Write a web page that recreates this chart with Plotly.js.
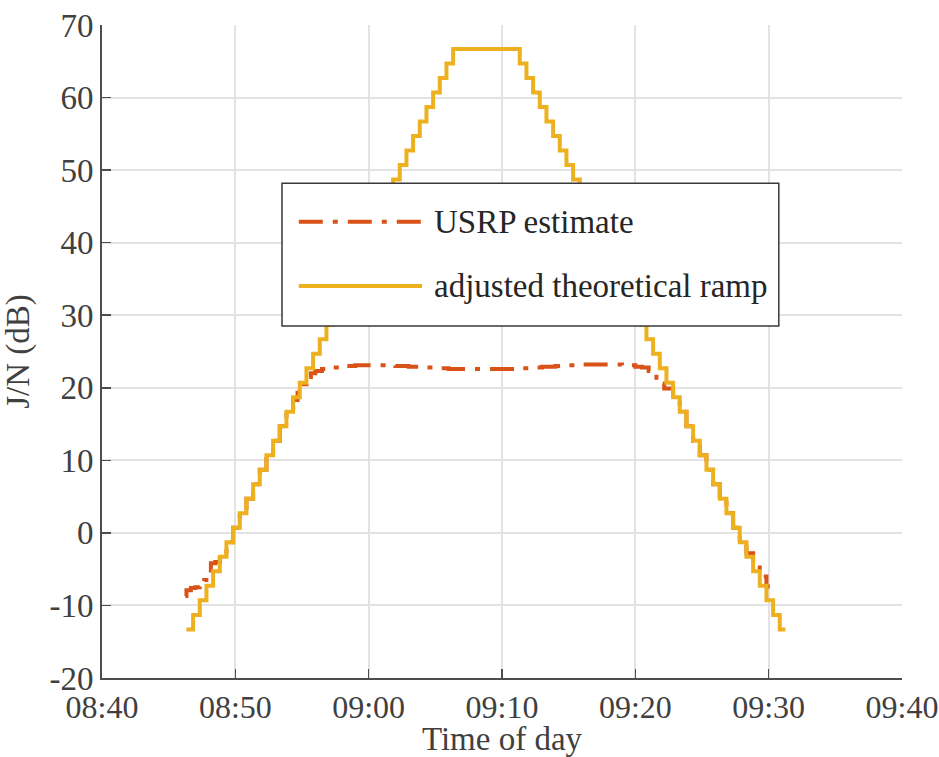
<!DOCTYPE html>
<html>
<head>
<meta charset="utf-8">
<script src="https://cdn.plot.ly/plotly-3.0.1.min.js"></script>
<style>html,body{margin:0;padding:0;background:#fff;}#chart{width:939px;height:757px;}</style>
</head>
<body>
<div id="chart"></div>
<script>
var day = '2021-01-01 ';

// adjusted theoretical ramp (stepwise, held until next time)
var rampTimes = ['08:46:20','08:46:50','08:47:20','08:47:50','08:48:20','08:48:50','08:49:20','08:49:50','08:50:20','08:50:50',
  '08:51:20','08:51:50','08:52:20','08:52:50','08:53:20','08:53:50','08:54:20','08:54:50','08:55:20','08:55:50',
  '08:56:20','08:56:50','08:57:20','08:57:50','08:58:20','08:58:50','08:59:20','08:59:50','09:00:20','09:00:50',
  '09:01:20','09:01:50','09:02:20','09:02:50','09:03:20','09:03:50','09:04:20','09:04:50','09:05:20','09:05:50',
  '09:06:20',
  '09:11:20','09:11:50','09:12:20','09:12:50','09:13:20','09:13:50','09:14:20','09:14:50','09:15:20','09:15:50',
  '09:16:20','09:16:50','09:17:20','09:17:50','09:18:20','09:18:50','09:19:20','09:19:50','09:20:20','09:20:50',
  '09:21:20','09:21:50','09:22:20','09:22:50','09:23:20','09:23:50','09:24:20','09:24:50','09:25:20','09:25:50',
  '09:26:20','09:26:50','09:27:20','09:27:50','09:28:20','09:28:50','09:29:20','09:29:50','09:30:20','09:30:50',
  '09:31:15'];
var rampValues = [-13.3,-11.3,-9.3,-7.3,-5.3,-3.3,-1.3,0.7,2.7,4.7,
  6.7,8.7,10.7,12.7,14.7,16.7,18.7,20.7,22.7,24.7,
  26.7,28.7,30.7,32.7,34.7,36.7,38.7,40.7,42.7,44.7,
  46.7,48.7,50.7,52.7,54.7,56.7,58.7,60.7,62.7,64.7,
  66.7,
  64.7,62.7,60.7,58.7,56.7,54.7,52.7,50.7,48.7,46.7,
  44.7,42.7,40.7,38.7,36.7,34.7,32.7,30.7,28.7,26.7,
  24.7,22.7,20.7,18.7,16.7,14.7,12.7,10.7,8.7,6.7,
  4.7,2.7,0.7,-1.3,-3.3,-5.3,-7.3,-9.3,-11.3,-13.3,
  -13.3];

// USRP estimate
var usrpTimes = ['08:46:15','08:46:20','08:46:40','08:47:00','08:47:20','08:47:40','08:48:00','08:48:10','08:48:30',
  '08:48:50','08:49:20','08:49:50','08:50:20','08:50:50','08:51:20','08:51:50','08:52:20','08:52:50','08:53:20','08:53:50',
  '08:54:20','08:54:40','08:55:00','08:55:20','08:55:40','08:56:00','08:56:30','08:57:00','08:58:00','08:59:00',
  '09:00:00','09:01:00','09:02:00','09:03:00','09:04:00','09:05:00','09:06:00','09:08:00','09:10:00','09:11:00',
  '09:12:00','09:13:00','09:14:00','09:15:00','09:16:00','09:17:00','09:18:00','09:19:00','09:20:00','09:20:30',
  '09:21:00','09:21:25','09:21:35','09:21:45','09:22:10','09:22:50','09:23:20','09:23:50','09:24:20','09:24:50',
  '09:25:20','09:25:50','09:26:20','09:26:50','09:27:20','09:27:50','09:28:20','09:28:50','09:29:20','09:29:50',
  '09:30:05'];
var usrpValues = [-8.7,-7.9,-7.6,-7.5,-7.3,-6.5,-5.8,-4.2,-4.0,
  -3.3,-1.3,0.7,2.7,4.7,6.7,8.7,10.7,12.7,14.7,16.7,
  18.3,19.3,20.5,21.5,22.0,22.3,22.6,22.8,23.0,23.1,
  23.1,23.1,23.0,22.9,22.8,22.7,22.6,22.6,22.6,22.7,
  22.8,22.9,23.0,23.1,23.2,23.2,23.2,23.1,22.9,22.8,
  22.3,21.8,21.0,20.6,19.9,18.7,16.7,14.7,12.7,10.7,
  8.7,6.7,4.7,2.7,0.7,-1.3,-2.8,-4.4,-6.0,-7.4,
  -7.4];

var xTickVals = ['08:40','08:50','09:00','09:10','09:20','09:30','09:40'];
var yTickVals = [-20,-10,0,10,20,30,40,50,60,70];
var yTickText = ['-20','-10','0','10','20','30','40','50','60','70'];
var legendLabels = ['USRP estimate','adjusted theoretical ramp'];

var red = '#D95319', yellow = '#EDB120';
var fontFam = 'Liberation Serif';

var traces = [
  {x: usrpTimes.map(function(t){return day+t;}), y: usrpValues, type:'scatter', mode:'lines',
   line:{color:red, width:4, dash:'24px,10px,5px,10px', shape:'hv'}, name:legendLabels[0], showlegend:false},
  {x: rampTimes.map(function(t){return day+t;}), y: rampValues, type:'scatter', mode:'lines',
   line:{color:yellow, width:4, shape:'hv'}, name:legendLabels[1], showlegend:false}
];

var axisCommon = {
  showgrid:true, gridcolor:'#e3e3e3', gridwidth:2,
  showline:true, linecolor:'#4d4d4d', linewidth:2, mirror:false,
  ticks:'inside', ticklen:9, tickwidth:1.5, tickcolor:'#4d4d4d',
  zeroline:false, automargin:false,
  tickfont:{family:fontFam, size:32, color:'#404040'}
};

var layout = {
  width:939, height:757,
  margin:{l:102, r:37, t:25, b:79},
  paper_bgcolor:'#fff', plot_bgcolor:'#fff',
  showlegend:false,
  font:{family:fontFam, color:'#404040'},
  xaxis: Object.assign({}, axisCommon, {
    type:'date',
    range:[day+'08:40', day+'09:40'],
    tickvals: xTickVals.map(function(t){return day+t;}),
    ticktext: xTickVals,
    title:{text:'Time of day', font:{family:fontFam, size:33, color:'#404040'}, standoff:0}
  }),
  yaxis: Object.assign({}, axisCommon, {
    range:[-20,70],
    tickvals: yTickVals,
    ticktext: yTickText,
    tickfont:{family:fontFam, size:33, color:'#404040'},
    title:{text:'J/N (dB)', font:{family:fontFam, size:33, color:'#404040'}}
  }),
  shapes:[
    {type:'rect', xref:'paper', yref:'paper', x0:0.225, x1:0.846, y0:0.539, y1:0.7576,
     line:{color:'#3a3a3a', width:1.5}, fillcolor:'#ffffff', layer:'above'},
    {type:'line', xref:'paper', yref:'paper', x0:0.246, x1:0.40, y0:0.6988, y1:0.6988,
     line:{color:red, width:4, dash:'24px,10px,5px,10px'}, layer:'above'},
    {type:'line', xref:'paper', yref:'paper', x0:0.246, x1:0.40, y0:0.6003, y1:0.6003,
     line:{color:yellow, width:4}, layer:'above'}
  ],
  annotations:[
    {xref:'paper', yref:'paper', x:0.4125, y:0.6988, xanchor:'left', yanchor:'middle', showarrow:false,
     text:legendLabels[0], font:{family:fontFam, size:33, color:'#262626'}},
    {xref:'paper', yref:'paper', x:0.4125, y:0.6003, xanchor:'left', yanchor:'middle', showarrow:false,
     text:legendLabels[1], font:{family:fontFam, size:33, color:'#262626'}}
  ]
};

Plotly.newPlot('chart', traces, layout, {displayModeBar:false, staticPlot:true});
</script>
</body>
</html>
